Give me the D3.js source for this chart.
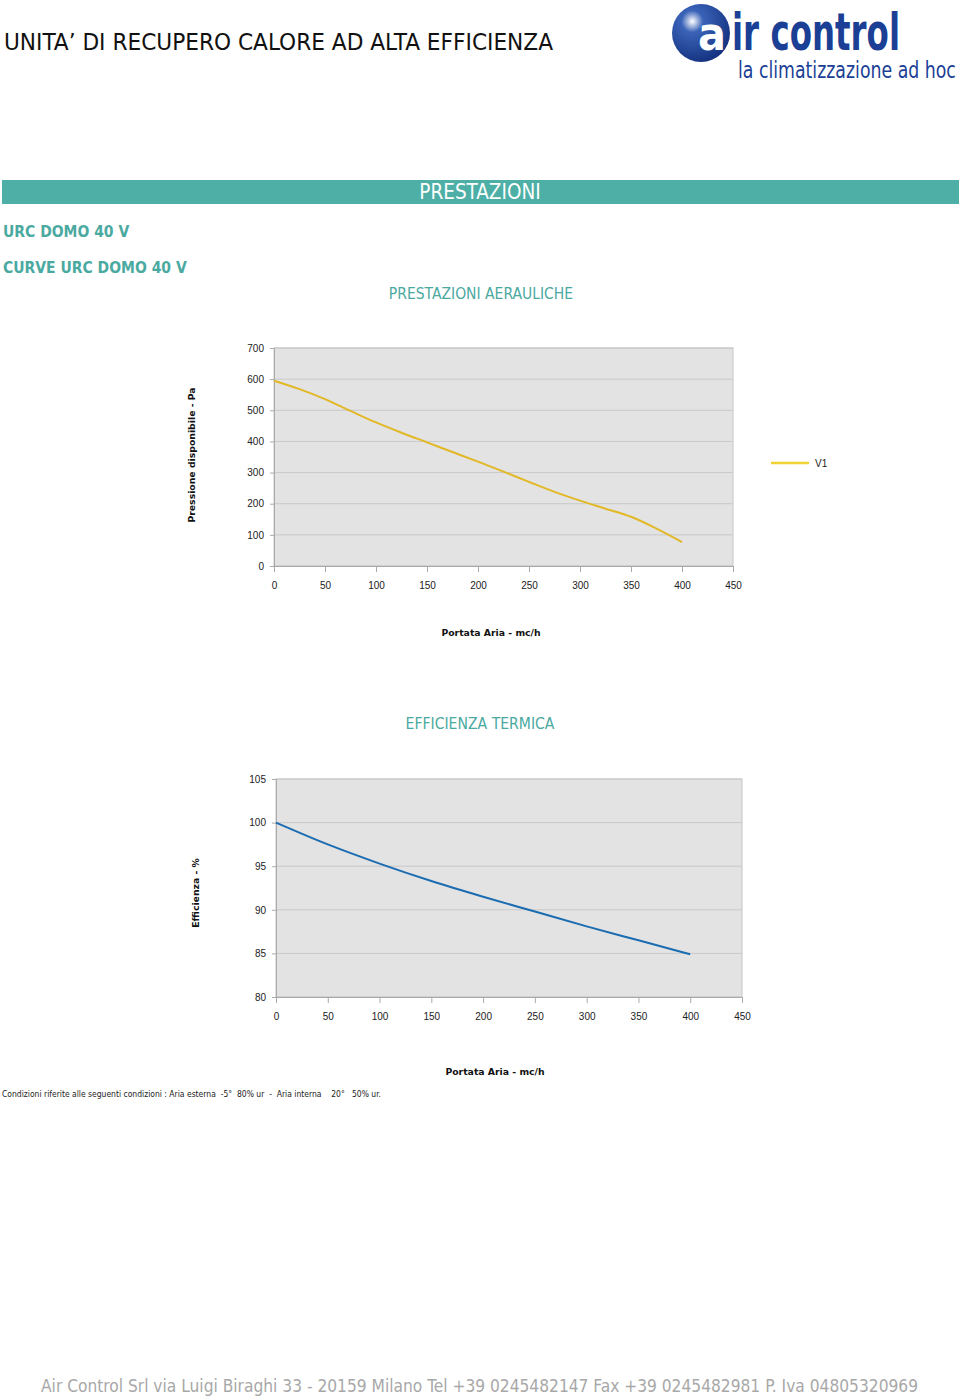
<!DOCTYPE html>
<html><head><meta charset="utf-8">
<script src="https://cdn.jsdelivr.net/npm/d3@7"></script>
<style>
html,body{margin:0;padding:0;background:#fff;}
svg{display:block;}
</style></head>
<body>
<script>
// ---- data ----
const xTicks = [0,50,100,150,200,250,300,350,400,450];
const pressureTicks = [0,100,200,300,400,500,600,700];
const effTicks = [80,85,90,95,100,105];
const flow = [0,25,50,75,100,125,150,175,200,225,250,275,300,325,350,375,400];
const pressureV1 = [595,568,536,498,461,428,397,366,335,303,270,238,210,184,158,120,77];
const flowEff = [0,50,100,150,200,250,300,350,400];
const efficiency = [100.0,97.5,95.3,93.3,91.5,89.8,88.1,86.5,84.9];
const seriesName = "V1";

const W=960,H=1396;
const svg=d3.select("body").append("svg").attr("width",W).attr("height",H);
const COND='"DejaVu Sans Condensed","DejaVu Sans",sans-serif';
const TEAL="#4aa9a0";

// header
svg.append("text").attr("x",4).attr("y",50).attr("font-family",COND).attr("font-size",23)
  .attr("fill","#111").attr("textLength",549).attr("lengthAdjust","spacingAndGlyphs")
  .text("UNITA’ DI RECUPERO CALORE AD ALTA EFFICIENZA");

// logo
const logo=svg.append("g");
const grad=svg.append("defs").append("radialGradient").attr("id","lg").attr("cx","0.35").attr("cy","0.3").attr("r","0.75");
grad.append("stop").attr("offset","0").attr("stop-color","#ffffff");
grad.append("stop").attr("offset","0.25").attr("stop-color","#3a63b8");
grad.append("stop").attr("offset","1").attr("stop-color","#13307e");
logo.append("circle").attr("cx",701).attr("cy",33).attr("r",29).attr("fill","url(#lg)");
logo.append("text").attr("x",698).attr("y",50).attr("font-family",COND).attr("font-weight","bold")
  .attr("font-size",46).attr("fill","#fff").text("a");
function fitText(x,y,size,weight,target,str){
  const t=logo.append("text").attr("x",0).attr("y",0).attr("font-family",COND).attr("font-weight",weight)
    .attr("font-size",size).attr("fill","#1c3f96").text(str);
  const nat=t.node().getComputedTextLength();
  t.attr("transform",`translate(${x},${y}) scale(${target/nat},1)`);
}
fitText(732,50,52,"bold",168,"ir control");
fitText(738,78,23,"normal",218,"la climatizzazione ad hoc");

// band
svg.append("rect").attr("x",2).attr("y",180).attr("width",957).attr("height",24).attr("fill","#4dafa6");
svg.append("text").attr("x",480).attr("y",199).attr("text-anchor","middle").attr("font-family",COND)
  .attr("font-size",20.5).attr("fill","#fff").text("PRESTAZIONI");
svg.append("text").attr("x",3).attr("y",237).attr("font-family",COND).attr("font-weight","bold")
  .attr("font-size",15.5).attr("fill",TEAL).text("URC DOMO 40 V");
svg.append("text").attr("x",3).attr("y",273).attr("font-family",COND).attr("font-weight","bold")
  .attr("font-size",15.5).attr("fill",TEAL).text("CURVE URC DOMO 40 V");
svg.append("text").attr("x",481).attr("y",299).attr("text-anchor","middle").attr("font-family",COND)
  .attr("font-size",15.5).attr("fill",TEAL).text("PRESTAZIONI AERAULICHE");
svg.append("text").attr("x",480).attr("y",729).attr("text-anchor","middle").attr("font-family",COND)
  .attr("font-size",15.6).attr("fill",TEAL).text("EFFICIENZA TERMICA");

function chart(o){
  const g=svg.append("g");
  const x=d3.scaleLinear().domain([0,450]).range([o.x0,o.x1]);
  const y=d3.scaleLinear().domain(o.ydom).range([o.y0,o.y1]);
  g.append("rect").attr("x",o.x0).attr("y",o.y1).attr("width",o.x1-o.x0).attr("height",o.y0-o.y1)
    .attr("fill","#e3e3e3").attr("stroke","#c6c6c6");
  g.selectAll(".gl").data(o.yticks).join("line").attr("x1",o.x0).attr("x2",o.x1)
    .attr("y1",d=>y(d)).attr("y2",d=>y(d)).attr("stroke","#c9c9c9").attr("stroke-width",1);
  const ya=g.append("g").attr("transform",`translate(${o.x0},0)`)
    .call(d3.axisLeft(y).tickValues(o.yticks).tickSize(4).tickSizeOuter(0).tickPadding(6));
  ya.select(".domain").attr("stroke","#aaa");
  ya.selectAll(".tick line").attr("stroke","#aaa");
  ya.selectAll("text").attr("font-family","Liberation Sans, Arial, sans-serif").attr("font-size",10).attr("fill","#222");
  const xa=g.append("g").attr("transform",`translate(0,${o.y0})`)
    .call(d3.axisBottom(x).tickValues(xTicks).tickSize(6).tickSizeOuter(0).tickPadding(10));
  xa.select(".domain").attr("stroke","#aaa");
  xa.selectAll(".tick line").attr("stroke","#aaa");
  xa.selectAll("text").attr("font-family","Liberation Sans, Arial, sans-serif").attr("font-size",10).attr("fill","#222");
  g.append("path").datum(o.xs.map((d,i)=>[d,o.ys[i]]))
    .attr("d",d3.line().x(d=>x(d[0])).y(d=>y(d[1])).curve(d3.curveMonotoneX))
    .attr("fill","none").attr("stroke",o.color).attr("stroke-width",2);
  g.append("text").attr("transform",`translate(${o.ytx},${o.yty}) rotate(-90)`).attr("text-anchor","middle")
    .attr("font-family","DejaVu Sans, sans-serif").attr("font-weight","bold").attr("font-size",9.3)
    .attr("fill","#111").text(o.ytitle);
  g.append("text").attr("x",o.xtx).attr("y",o.xty).attr("text-anchor","middle")
    .attr("font-family","DejaVu Sans, sans-serif").attr("font-weight","bold").attr("font-size",9.3)
    .attr("fill","#111").text("Portata Aria - mc/h");
}

chart({x0:274,x1:733,y0:566,y1:348,ydom:[0,700],yticks:pressureTicks,xs:flow,ys:pressureV1,color:"#e2b826",
  ytitle:"Pressione disponibile - Pa",ytx:195,yty:455,xtx:491,xty:636});
chart({x0:276,x1:742,y0:997,y1:779,ydom:[80,105],yticks:effTicks,xs:flowEff,ys:efficiency,color:"#1b6cb0",
  ytitle:"Efficienza - %",ytx:199,yty:893,xtx:495,xty:1075});

// legend
svg.append("line").attr("x1",771).attr("x2",809).attr("y1",463).attr("y2",463).attr("stroke","#f0d232").attr("stroke-width",2.5);
svg.append("text").attr("x",815).attr("y",467).attr("font-family","Liberation Sans, Arial, sans-serif")
  .attr("font-size",10).attr("fill","#222").text(seriesName);

// note
svg.append("text").attr("x",2).attr("y",1097).attr("font-family",COND).attr("font-size",8.6)
  .attr("fill","#222").style("white-space","pre").attr("textLength",379).attr("lengthAdjust","spacingAndGlyphs")
  .text("Condizioni riferite alle seguenti condizioni : Aria esterna  -5°  80% ur  -  Aria interna    20°   50% ur.");

// footer
svg.append("text").attr("x",41).attr("y",1392).attr("font-family",COND)
  .attr("font-size",18).attr("fill","#a8a8a8").attr("textLength",877).attr("lengthAdjust","spacingAndGlyphs")
  .text("Air Control Srl via Luigi Biraghi 33 - 20159 Milano Tel +39 0245482147 Fax +39 0245482981 P. Iva 04805320969");
</script>
</body></html>
